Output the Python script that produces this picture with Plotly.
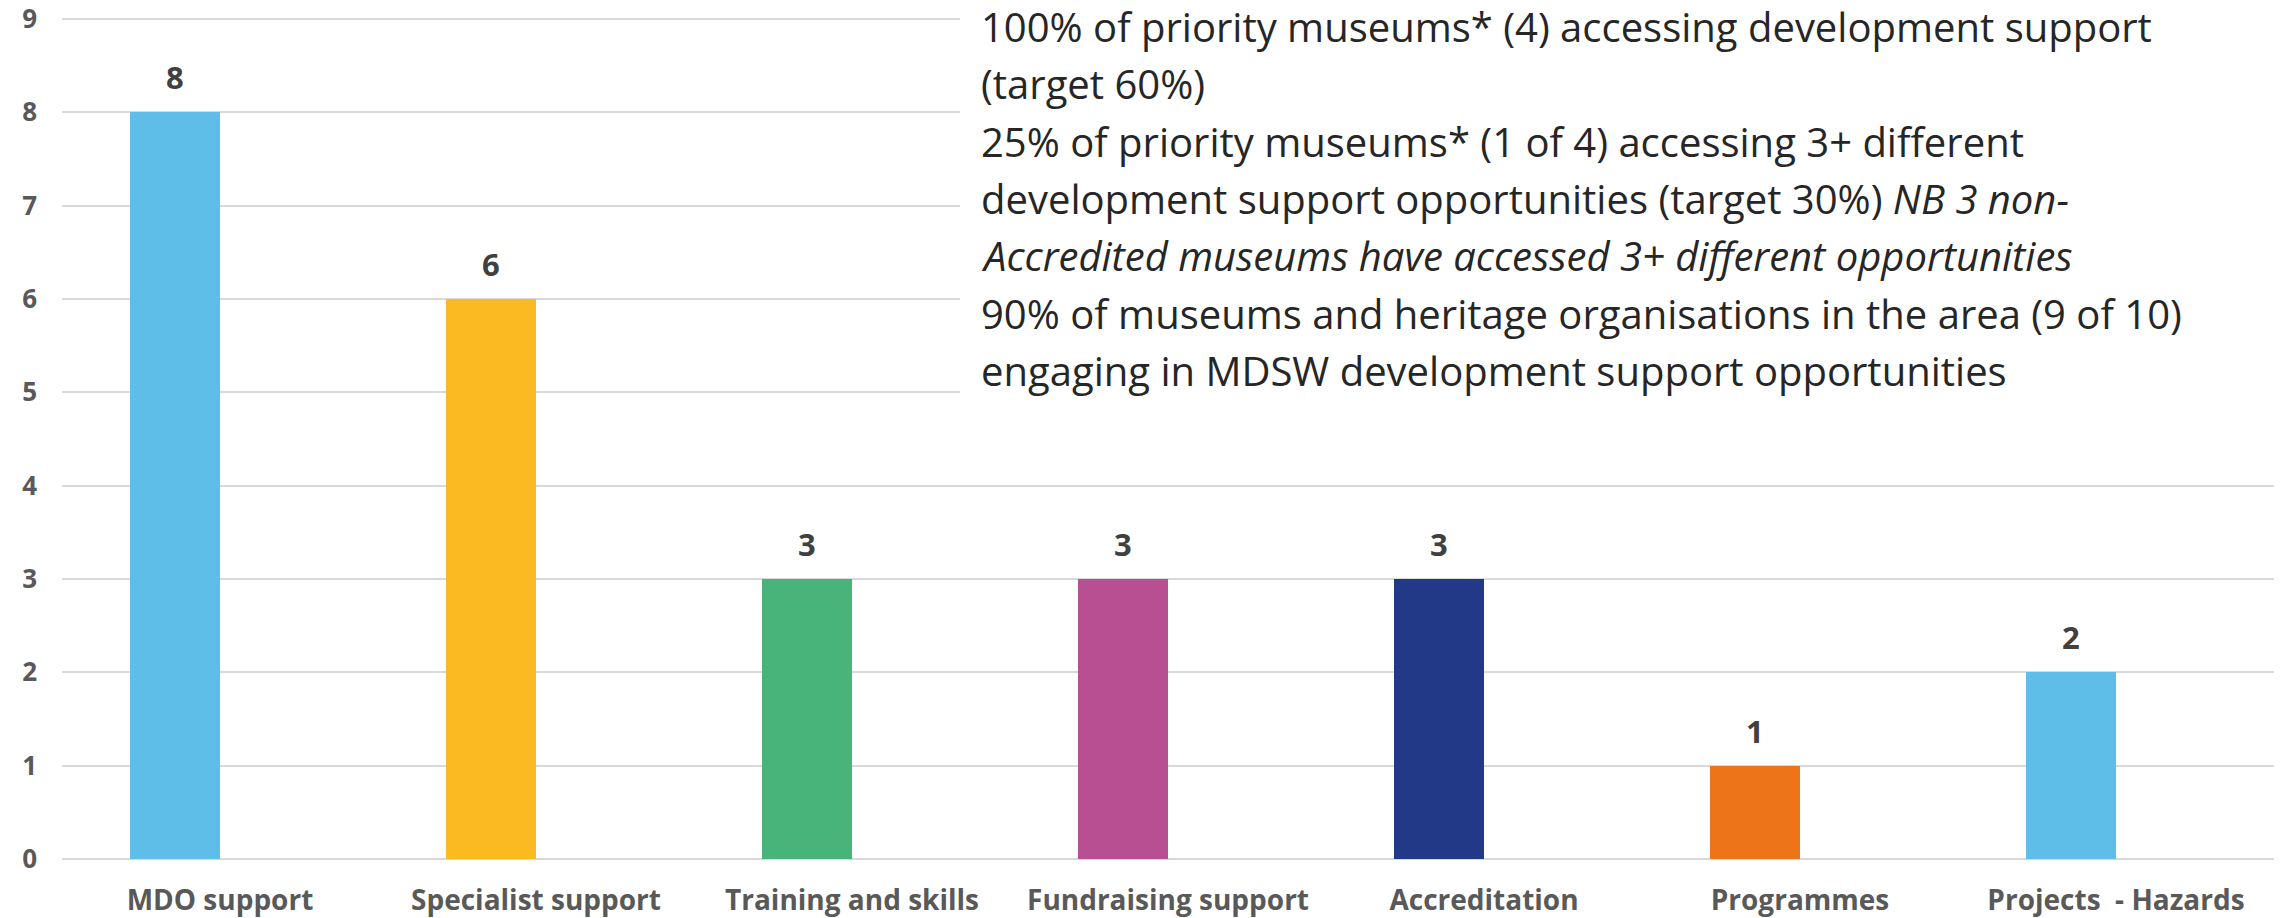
import plotly.graph_objects as go

categories = ["MDO support", "Specialist support", "Training and skills",
              "Fundraising support", "Accreditation", "Programmes", "Projects  - Hazards"]
values = [8, 6, 3, 3, 3, 1, 2]
colors = ["#5EBEE8", "#FBBA22", "#48B47A", "#B84F93", "#213986", "#EE741A", "#5EBEE8"]
y_ticks = [0, 1, 2, 3, 4, 5, 6, 7, 8, 9]

text_lines = [
    "100% of priority museums* (4) accessing development support",
    "(target 60%)",
    "25% of priority museums* (1 of 4) accessing 3+ different",
    "development support opportunities (target 30%) <i>NB 3 non-</i>",
    "<i>Accredited museums have accessed 3+ different opportunities</i>",
    "90% of museums and heritage organisations in the area (9 of 10)",
    "engaging in MDSW development support opportunities",
]

# body margin is removed in the page, so the figure fills the 2295x918 window
Y_MAX = 9.02
unit_px = (859.5 - 19) / 9
W, H = 2295, 918
L = 62
T = 19 - (Y_MAX - 9) * unit_px
R = W - 2274
B = H - 859.5
plot_w = W - L - R
plot_h = H - T - B
BAR_W = 0.285
FONT = "Open Sans, Lato, Noto Sans, sans-serif"

fig = go.Figure()
fig.add_trace(go.Bar(
    x=categories, y=values,
    marker=dict(color=colors, line=dict(width=0)),
    width=BAR_W, offset=-BAR_W,
    showlegend=False, hoverinfo="skip",
))

annotations = []
for i, v in enumerate(values):
    annotations.append(dict(
        x=i - BAR_W / 2, y=v, xref="x", yref="y",
        text=str(v), showarrow=False, yanchor="middle", xanchor="center",
        yshift=35,
        font=dict(family=FONT, size=31, color="#404040", weight="bold"),
    ))

first_baseline = 40
spacing = 57.3
fsize = 40
for k, line in enumerate(text_lines):
    py = first_baseline + k * spacing - 0.33 * fsize
    annotations.append(dict(
        x=(980 - L) / plot_w, y=(H - B - py) / plot_h,
        xref="paper", yref="paper",
        text=line, showarrow=False, xanchor="left", yanchor="middle",
        align="left", borderpad=0,
        font=dict(family=FONT, size=fsize, color="#262626"),
    ))

fig.update_layout(
    template="none",
    width=W, height=H,
    margin=dict(l=L, r=R, t=T, b=B, pad=0, autoexpand=False),
    paper_bgcolor="white", plot_bgcolor="white",
    bargap=0,
    annotations=annotations,
    shapes=[dict(
        type="rect", xref="paper", yref="paper",
        x0=(960 - L) / plot_w, x1=1.02,
        y0=(H - B - 430) / plot_h, y1=1.05,
        fillcolor="white", line=dict(width=0), layer="above",
    )],
    xaxis=dict(
        type="category", showgrid=False, showline=False, ticks="",
        automargin=False, zeroline=False,
        tickfont=dict(family=FONT, size=28, color="#595959", weight="bold"),
        ticklabelstandoff=22,
    ),
    yaxis=dict(
        range=[0, Y_MAX], tickvals=y_ticks, showgrid=True,
        gridcolor="#D9D9D9", gridwidth=2,
        zeroline=True, zerolinecolor="#D9D9D9", zerolinewidth=2,
        showline=False, ticks="", automargin=False,
        ticklabeloverflow="allow",
        tickfont=dict(family=FONT, size=26, color="#595959", weight="bold"),
        ticklabelstandoff=24,
    ),
)

fig.write_html(
    "out.html",
    config={"displayModeBar": False},
    post_script="document.body.style.margin='0';document.body.style.overflow='hidden';",
)
